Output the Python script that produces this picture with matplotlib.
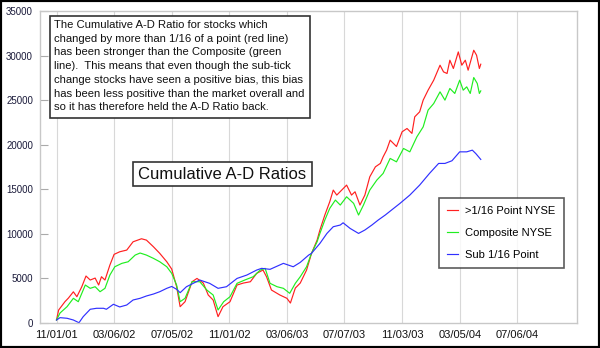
import matplotlib
matplotlib.use("Agg")
import matplotlib.pyplot as plt
from matplotlib.patches import Rectangle

plt.rcParams['font.family'] = ['Liberation Sans', 'DejaVu Sans']

# x = trading session index since 11/01/01
red_x = [0, 3, 12, 17, 24, 29, 36, 42, 48, 55, 60, 64, 69, 76, 82, 90, 100, 109, 121, 128,
         138, 147, 157, 164, 171, 176, 183, 193, 200, 209, 216, 223, 230, 237, 247, 257, 266,
         276, 285, 294, 299, 306, 318, 328, 333, 340, 347, 356, 363, 371, 375, 382, 389, 394,
         399, 406, 413, 420, 425, 432, 439, 446, 454, 461, 465, 470, 475, 484, 492, 499, 506,
         510, 517, 522, 529, 537, 546, 551, 556, 560, 565, 572, 577, 582, 586, 594, 598, 602, 604]
red_y = [336, 1450, 2390, 2800, 3500, 2950, 4070, 5270, 4820, 5040, 4260, 5190, 4820, 6500,
         7700, 7990, 8180, 9110, 9450, 9300, 8550, 7810, 6870, 6050, 4070, 1830, 2390, 4630,
         5000, 4480, 3140, 2580, 710, 1830, 2390, 4260, 4480, 4630, 5570, 5940, 5190, 3700,
         3140, 2770, 2240, 3920, 4480, 5940, 7800, 9300, 10430, 12110, 13600, 14910, 14350,
         14910, 15470, 14350, 14720, 13230, 14350, 16400, 17520, 17900, 18640, 19400, 20510,
         19800, 21450, 21820, 21270, 23130, 23690, 25000, 26120, 27240, 28920, 28170, 27990,
         29480, 28550, 30410, 28920, 29480, 28360, 30600, 30040, 28550, 29030]

green_x = [0, 5, 15, 24, 31, 41, 48, 55, 62, 69, 76, 83, 93, 102, 112, 119, 128, 138, 147,
           157, 164, 171, 176, 183, 193, 204, 214, 223, 230, 238, 247, 257, 268, 280, 290, 297,
           304, 314, 323, 332, 340, 347, 356, 363, 371, 375, 382, 389, 397, 404, 413, 423, 430,
           437, 446, 456, 465, 475, 484, 494, 503, 513, 522, 529, 537, 546, 553, 560, 567, 574,
           579, 584, 589, 594, 599, 602, 604]
green_y = [336, 1120, 1830, 2770, 2390, 4260, 3890, 4070, 3510, 3890, 5380, 6310, 6690, 6870,
           7620, 7850, 7620, 7250, 6870, 6310, 5570, 4260, 2390, 2770, 4630, 4630, 3700, 3140,
           1460, 2390, 2950, 4450, 4820, 5190, 5940, 6130, 4450, 4070, 3890, 3330, 4450, 5190,
           6310, 7810, 9110, 10050, 11550, 12860, 13790, 13230, 14160, 13420, 12110, 13230,
           14910, 16030, 16780, 18460, 18080, 19580, 19200, 20880, 22000, 23880, 24620, 25930,
           25000, 26310, 25750, 27240, 26120, 26490, 25750, 27540, 26870, 25750, 26040]

blue_x = [0, 5, 15, 24, 32, 38, 48, 57, 67, 71, 81, 90, 100, 109, 119, 128, 138, 147, 157,
          164, 171, 176, 185, 204, 218, 230, 242, 257, 271, 285, 292, 304, 323, 337, 347, 359,
          363, 375, 385, 394, 404, 408, 418, 430, 439, 449, 458, 468, 480, 489, 503, 517, 531,
          544, 553, 563, 574, 584, 592, 597, 604]
blue_y = [336, 600, 530, 336, 30, 710, 1540, 1650, 1650, 1540, 2100, 1800, 2020, 2580, 2770,
          3030, 3250, 3510, 3890, 4100, 3780, 3400, 4070, 4820, 4450, 3890, 4070, 5000, 5380,
          5940, 6130, 6020, 6690, 6310, 6800, 7620, 7810, 8930, 10050, 10800, 10990, 11240,
          10610, 10050, 10430, 10990, 11550, 12110, 12860, 13420, 14350, 15470, 16780, 17900,
          17900, 18200, 19200, 19200, 19390, 19000, 18350]

tick_pos = [0, 82, 164, 246, 328, 410, 492, 574, 656]
tick_labels = ['11/01/01', '03/06/02', '07/05/02', '11/01/02', '03/06/03',
               '07/07/03', '11/03/03', '03/05/04', '07/06/04']
y_ticks = [0, 5000, 10000, 15000, 20000, 25000, 30000, 35000]

series_labels = ['>1/16 Point NYSE', 'Composite NYSE', 'Sub 1/16 Point']

W, H = 600, 348
fig = plt.figure(figsize=(6, 3.48), dpi=100)
fig.patch.set_facecolor('white')

def fx(px):
    return px / W

def fy(py):
    return 1 - py / H

ax = fig.add_axes([fx(40), fy(323), (577 - 40) / W, (323 - 11) / H])
ax.plot(red_x, red_y, color='#ff2020', lw=0.85, label=series_labels[0])
ax.plot(green_x, green_y, color='#20ee20', lw=0.85, label=series_labels[1])
ax.plot(blue_x, blue_y, color='#3030ff', lw=0.85, label=series_labels[2])

ax.set_xlim(-23.5, 741)
ax.set_ylim(0, 35000)
ax.set_xticks(tick_pos)
ax.set_xticklabels(tick_labels)
ax.set_yticks(y_ticks)
ax.set_yticklabels([str(v) for v in y_ticks])
ax.tick_params(axis='x', length=0, pad=5, labelsize=8, labelcolor='#111111')
ax.tick_params(axis='y', direction='in', length=6, color='#aaaaaa', pad=5,
               labelsize=7, labelcolor='#1a1a3a')
ax.grid(axis='x', color='#d8d8d8', lw=0.8)
ax.set_axisbelow(True)
for s in ax.spines.values():
    s.set_color('#c8c8c8')
    s.set_linewidth(1.0)

leg = ax.legend(loc='upper left', bbox_to_anchor=(fx(439), fy(198)),
                bbox_transform=fig.transFigure, fontsize=8, frameon=True,
                fancybox=False, edgecolor='#333333', handlelength=1.0,
                handletextpad=0.6, labelspacing=1.05, borderpad=0.75,
                borderaxespad=0)
leg.get_frame().set_linewidth(1.2)

# annotation box
fig.add_artist(Rectangle((fx(50), fy(118)), (310 - 50) / W, (118 - 16) / H,
                         transform=fig.transFigure, facecolor='white',
                         edgecolor='#333333', lw=1.2, zorder=5))
note_lines = ["The Cumulative A-D Ratio for stocks which",
              "changed by more than 1/16 of a point (red line)",
              "has been stronger than the Composite (green",
              "line).  This means that even though the sub-tick",
              "change stocks have seen a positive bias, this bias",
              "has been less positive than the market overall and",
              "so it has therefore held the A-D Ratio back."]
for i, line in enumerate(note_lines):
    fig.text(fx(54), fy(28 + i * 13.7), line, fontsize=8.1, va='baseline',
             ha='left', color='#111111', zorder=6)

# title box
fig.add_artist(Rectangle((fx(133), fy(186)), (312 - 133) / W, (186 - 162) / H,
                         transform=fig.transFigure, facecolor='white',
                         edgecolor='#333333', lw=1.2, zorder=5))
fig.text(fx(222.5), fy(174.5), 'Cumulative A-D Ratios', fontsize=12,
         ha='center', va='center', color='#111111', zorder=6)

# outer border
fig.add_artist(Rectangle((0, 0), 1, 1, transform=fig.transFigure, fill=False,
                         edgecolor='black', lw=3, zorder=10))

fig.savefig('out.png', dpi=100)
